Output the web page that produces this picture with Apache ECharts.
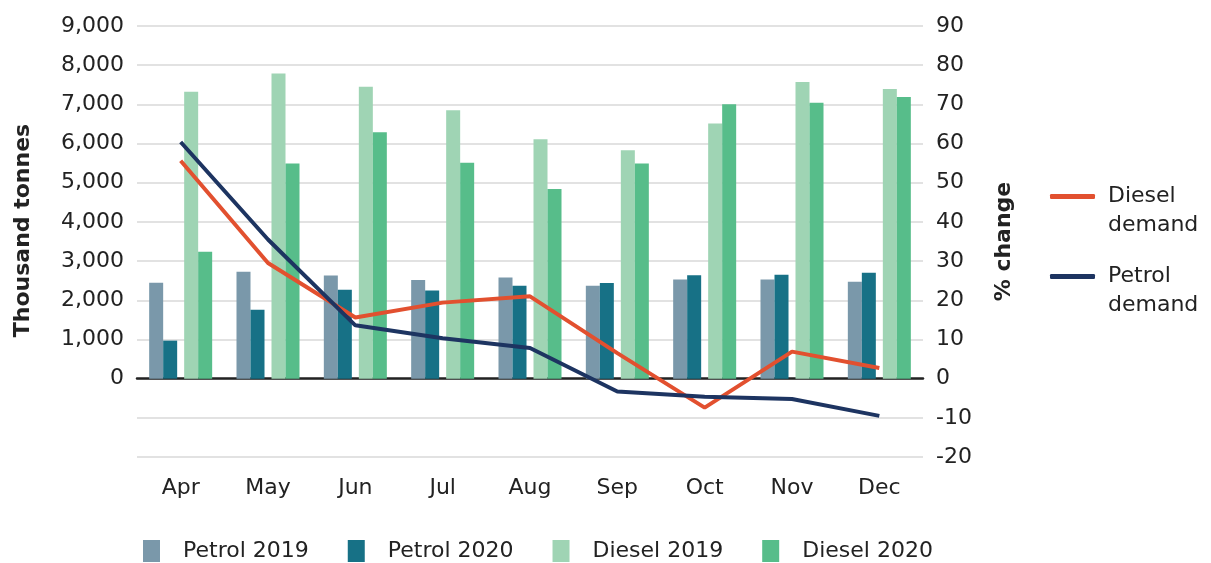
<!DOCTYPE html>
<html>
<head>
<meta charset="utf-8">
<script src="https://cdn.jsdelivr.net/npm/echarts@6/dist/echarts.min.js"></script>
<style>
  html, body { margin: 0; padding: 0; background: #fff; }
  #chart { width: 1211px; height: 563px; }
</style>
</head>
<body>
<div id="chart"></div>
<script>
// months and values
const months = ['Apr', 'May', 'Jun', 'Jul', 'Aug', 'Sep', 'Oct', 'Nov', 'Dec'];
const petrol2019 = [2450, 2730, 2630, 2520, 2580, 2370, 2530, 2530, 2470];
const petrol2020 = [970, 1760, 2270, 2250, 2370, 2440, 2640, 2650, 2700];
const diesel2019 = [7320, 7790, 7450, 6850, 6110, 5830, 6510, 7570, 7390];
const diesel2020 = [3240, 5490, 6290, 5510, 4840, 5490, 7000, 7040, 7190];
// % change (right axis)
const dieselDemand = [55.6, 29.5, 15.6, 19.4, 21.0, 6.5, -7.4, 6.9, 2.7];
const petrolDemand = [60.4, 35.5, 13.6, 10.3, 7.8, -3.3, -4.6, -5.2, -9.5];

const font = 'DejaVu Sans';
const txt = '#222';
const gridColor = '#d9d9d9';

// petrol pair and diesel pair sit in shifted grids so there is a gap between them
const gridTop = 26, gridBottom = 106;
const shift = 17.5;

const chart = echarts.init(document.getElementById('chart'));
chart.setOption({
  animation: false,
  textStyle: { fontFamily: font, color: txt },
  grid: [
    { left: 137, right: 288, top: gridTop, bottom: gridBottom, outerBoundsMode: 'none' },
    { left: 137 - shift, right: 288 + shift, top: gridTop, bottom: gridBottom, outerBoundsMode: 'none' },
    { left: 137 + shift, right: 288 - shift, top: gridTop, bottom: gridBottom, outerBoundsMode: 'none' }
  ],
  legend: [
    {
      data: ['Petrol 2019', 'Petrol 2020', 'Diesel 2019', 'Diesel 2020'],
      left: 143, top: 540, padding: 0,
      icon: 'rect', itemWidth: 17, itemHeight: 22, itemGap: 39,
      textStyle: { fontFamily: font, fontSize: 22, color: txt, padding: [0, 0, 0, 18] }
    },
    {
      data: ['Diesel demand', 'Petrol demand'],
      orient: 'vertical',
      left: 1050, top: 153, padding: 0,
      icon: 'roundRect', itemWidth: 45, itemHeight: 5, itemGap: -7,
      // empty first line keeps the first word level with the line icon
      formatter: function (name) { return '\n' + name.replace(' ', '\n'); },
      textStyle: { fontFamily: font, fontSize: 22, color: txt, lineHeight: 29, padding: [0, 0, 0, 8] }
    }
  ],
  xAxis: [
    {
      type: 'category', gridIndex: 0, data: months,
      axisLine: { show: false }, axisTick: { show: false },
      axisLabel: { margin: 20, fontSize: 22, color: txt, fontFamily: font }
    },
    {
      type: 'category', gridIndex: 0, data: months,
      axisLine: { show: true, onZero: true, onZeroAxisIndex: 0, lineStyle: { color: '#222', width: 2.5 } },
      axisTick: { show: false }, axisLabel: { show: false }
    },
    { type: 'category', gridIndex: 1, data: months, show: false },
    { type: 'category', gridIndex: 2, data: months, show: false }
  ],
  yAxis: [
    {
      type: 'value', gridIndex: 0, min: -2000, max: 9000, interval: 1000,
      name: 'Thousand tonnes', nameLocation: 'middle', nameGap: 103, nameRotate: 90,
      nameTextStyle: { fontFamily: font, fontSize: 22, fontWeight: 'bold', color: txt, padding: [0, 0, 0, 22] },
      axisLine: { show: false }, axisTick: { show: false },
      splitLine: { lineStyle: { color: gridColor, width: 1.5 } },
      axisLabel: {
        margin: 13, fontSize: 22, color: txt, fontFamily: font,
        formatter: function (v) { return v < 0 ? '' : v.toLocaleString('en-US'); }
      }
    },
    {
      type: 'value', gridIndex: 0, min: -20, max: 90, interval: 10, position: 'right',
      name: '% change', nameLocation: 'middle', nameGap: 70, nameRotate: 90,
      nameTextStyle: { fontFamily: font, fontSize: 22, fontWeight: 'bold', color: txt },
      axisLine: { show: false }, axisTick: { show: false }, splitLine: { show: false },
      axisLabel: { margin: 13, fontSize: 22, color: txt, fontFamily: font }
    },
    { type: 'value', gridIndex: 1, min: -2000, max: 9000, show: false, splitLine: { show: false } },
    { type: 'value', gridIndex: 2, min: -2000, max: 9000, show: false, splitLine: { show: false } }
  ],
  series: [
    { name: 'Petrol 2019', type: 'bar', xAxisIndex: 2, yAxisIndex: 2, data: petrol2019,
      barWidth: 14, barGap: '0%', itemStyle: { color: '#7a98aa' } },
    { name: 'Petrol 2020', type: 'bar', xAxisIndex: 2, yAxisIndex: 2, data: petrol2020,
      barWidth: 14, barGap: '0%', itemStyle: { color: '#177186' } },
    { name: 'Diesel 2019', type: 'bar', xAxisIndex: 3, yAxisIndex: 3, data: diesel2019,
      barWidth: 14, barGap: '0%', itemStyle: { color: '#9fd4b4' } },
    { name: 'Diesel 2020', type: 'bar', xAxisIndex: 3, yAxisIndex: 3, data: diesel2020,
      barWidth: 14, barGap: '0%', itemStyle: { color: '#57bd8a' } },
    { name: 'Diesel demand', type: 'line', xAxisIndex: 0, yAxisIndex: 1, data: dieselDemand,
      symbol: 'none', z: 5, lineStyle: { color: '#e2502f', width: 4 }, itemStyle: { color: '#e2502f' } },
    { name: 'Petrol demand', type: 'line', xAxisIndex: 0, yAxisIndex: 1, data: petrolDemand,
      symbol: 'none', z: 5, lineStyle: { color: '#1d3461', width: 4 }, itemStyle: { color: '#1d3461' } }
  ]
});
</script>
</body>
</html>
